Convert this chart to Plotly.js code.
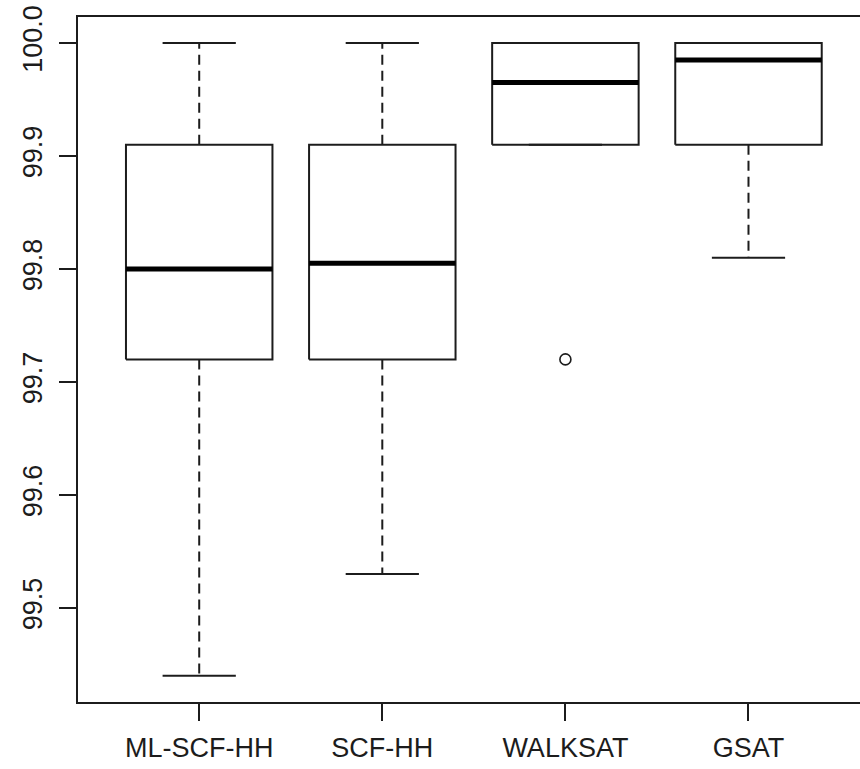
<!DOCTYPE html>
<html>
<head>
<meta charset="utf-8">
<script src="https://cdn.plot.ly/plotly-3.0.1.min.js"></script>
<style>html,body{margin:0;padding:0;background:#fff;}#chart{width:860px;height:769px;}</style>
</head>
<body>
<div id="chart"></div>
<script>
// ---- data ----
const categories = ['ML-SCF-HH', 'SCF-HH', 'WALKSAT', 'GSAT'];
const lowerWhisker = [99.44, 99.53, 99.91, 99.81];
const q1 = [99.72, 99.72, 99.91, 99.91];
const medians = [99.80, 99.805, 99.965, 99.985];
const q3 = [99.91, 99.91, 100.0, 100.0];
const upperWhisker = [100.0, 100.0, 100.0, 100.0];
const outlierGroup = ['WALKSAT'];
const outlierValues = [99.72];
const yTicks = [99.5, 99.6, 99.7, 99.8, 99.9, 100.0];
const yTickText = ['99.5', '99.6', '99.7', '99.8', '99.9', '100.0'];

// ---- styles ----
const INK = '#1c1c1c';
const HALF = 0.4;      // half box width (boxwex 0.8)
const CAP = 0.2;       // half staple width

const pos = categories.map((c, i) => i + 1);

function segs(builder) {
  const xs = [], ys = [];
  pos.forEach((p, i) => {
    builder(p, i).forEach(seg => {
      xs.push(...seg[0], null);
      ys.push(...seg[1], null);
    });
  });
  return {x: xs, y: ys};
}

const boxes = segs((p, i) => [[[p - HALF, p + HALF, p + HALF, p - HALF, p - HALF], [q1[i], q1[i], q3[i], q3[i], q1[i]]]]);
const meds = segs((p, i) => [[[p - HALF, p + HALF], [medians[i], medians[i]]]]);
const whisk = segs((p, i) => [[[p, p], [q3[i], upperWhisker[i]]], [[p, p], [q1[i], lowerWhisker[i]]]]);
const caps = segs((p, i) => [[[p - CAP, p + CAP], [upperWhisker[i], upperWhisker[i]]], [[p - CAP, p + CAP], [lowerWhisker[i], lowerWhisker[i]]]]);

const traces = [
  {type: 'scatter', mode: 'lines', x: whisk.x, y: whisk.y, line: {color: INK, width: 2, dash: '10px,6px'}, hoverinfo: 'skip'},
  {type: 'scatter', mode: 'lines', x: caps.x, y: caps.y, line: {color: INK, width: 2}, hoverinfo: 'skip'},
  {type: 'scatter', mode: 'lines', x: boxes.x, y: boxes.y, line: {color: INK, width: 2}, hoverinfo: 'skip'},
  {type: 'scatter', mode: 'lines', x: meds.x, y: meds.y, line: {color: '#000', width: 5}, hoverinfo: 'skip'},
  {type: 'scatter', mode: 'markers', x: outlierGroup.map(g => categories.indexOf(g) + 1), y: outlierValues,
   marker: {symbol: 'circle-open', size: 11, color: INK, line: {width: 1.6, color: INK}}, hoverinfo: 'skip'}
];

const layout = {
  width: 860, height: 769,
  margin: {l: 78, r: 0, t: 17, b: 67},
  paper_bgcolor: '#fff', plot_bgcolor: '#fff',
  showlegend: false,
  font: {family: '"Liberation Sans", Arial, sans-serif', color: INK, size: 27},
  xaxis: {
    range: [0.338, 4.609],
    tickmode: 'array', tickvals: pos, ticktext: categories,
    ticks: 'outside', ticklen: 17, tickwidth: 2, tickcolor: INK,
    showline: true, linewidth: 2, linecolor: INK, mirror: true,
    showgrid: false, zeroline: false,
    tickfont: {size: 27, color: INK},
    ticklabelstandoff: 4
  },
  yaxis: {
    range: [99.4168, 100.023],
    tickmode: 'array', tickvals: yTicks, ticktext: yTickText,
    ticks: 'outside', ticklen: 17, tickwidth: 2, tickcolor: INK,
    showline: true, linewidth: 2, linecolor: INK, mirror: false,
    showgrid: false, zeroline: false,
    tickangle: -90,
    tickfont: {size: 27, color: INK},
    ticklabelstandoff: 6
  }
};

Plotly.newPlot('chart', traces, layout, {displayModeBar: false, staticPlot: true});
</script>
</body>
</html>
